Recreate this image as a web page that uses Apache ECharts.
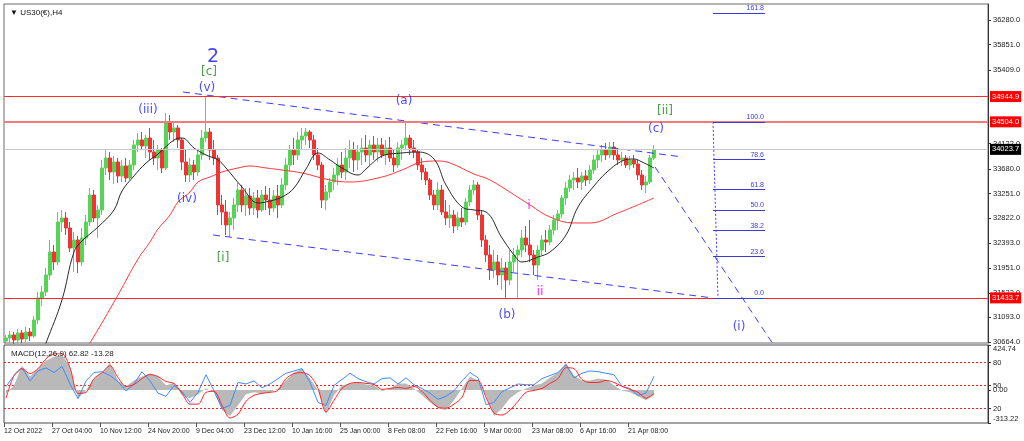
<!DOCTYPE html>
<html><head><meta charset="utf-8">
<script src="https://cdn.jsdelivr.net/npm/echarts/dist/echarts.min.js"></script>
<style>html,body{margin:0;padding:0;background:#fff;}#c{width:1024px;height:441px;}</style>
</head><body><div id="c"></div>
<script>
// ---------- DATA ----------
const barOpen = [30682,30734,30787,30699,30822,30717,30839,30769,31048,31432,
31536,31833,32234,32060,32757,32827,32653,32304,32443,32060,
32478,32757,33228,32827,32967,33699,33873,33629,33804,33560,
33734,33525,33751,34100,34188,34083,34222,33978,33873,34013,
33699,34501,34327,34397,34188,33804,33577,33751,33629,33926,
34222,34327,34013,33873,33054,32932,32705,32827,33054,33315,
33054,33211,33001,33176,32967,33228,33141,33001,33211,33054,
33403,33751,34013,33926,34188,34257,34327,34188,33926,33751,
33141,33281,33455,33577,33751,33629,33873,34013,33839,33978,
34048,33926,34100,33978,34100,33926,34048,33873,33751,34048,
34100,34222,34048,33978,33751,33629,33490,33228,33054,33315,
32932,32827,32879,32687,32827,32757,33106,33315,33403,32879,
32443,32182,31920,32060,31833,31955,31746,32060,32182,32269,
32478,32356,32182,32007,32269,32443,32408,32618,32792,32897,
33176,33350,33490,33525,33455,33560,33490,33664,33839,33926,
34013,33926,34065,33926,33839,33873,33751,33839,33769,33577,
33403,33455,33873];
const barHigh = [30787,30856,30839,30891,30874,30926,30909,31118,31536,31641,
31955,32443,32356,32932,32967,32932,32757,32583,32513,32653,
32879,33350,33315,33054,33839,34013,33978,33908,33873,33839,
33873,33839,34188,34309,34327,34275,34397,34188,34100,34048,
34658,34623,34501,34449,34222,34013,33873,33839,34013,34362,
34945,34397,34188,33926,33228,33141,32932,33176,33437,33403,
33350,33350,33281,33315,33315,33385,33350,33315,33403,33525,
33873,34100,34222,34327,34397,34397,34362,34275,34048,33804,
33403,33525,33699,33873,33978,34048,34188,34153,34100,34222,
34275,34188,34257,34222,34222,34188,34240,34013,34153,34188,
34520,34275,34188,34013,33873,33699,33525,33315,33455,33403,
33141,33054,32967,32932,33001,33176,33403,33490,33455,32967,
32531,32356,32269,32182,32129,32060,32269,32304,32356,32618,
32687,32792,32269,32356,32531,32618,32705,32879,32967,33228,
33455,33577,33629,33699,33629,33664,33751,33926,34013,34100,
34135,34153,34153,34013,33978,33926,33908,33926,33839,33664,
33560,33926,34100];
const barLow = [30629,30647,30629,30647,30647,30664,30682,30734,30978,31292,
31467,31746,31920,32007,32583,32531,32234,31885,31868,31990,
32356,32687,32757,32478,32879,33577,33490,33420,33437,33455,
33455,33490,33664,33978,34013,33873,33839,33751,33664,33612,
33664,34188,34153,34048,33664,33455,33455,33490,33560,33839,
34153,33839,33751,32879,32705,32531,32496,32618,32932,32932,
32862,32879,32879,32827,32932,32967,32879,32932,32827,33001,
33315,33629,33751,33839,34013,34100,34048,33839,33664,33001,
32967,33176,33315,33403,33525,33490,33699,33629,33664,33751,
33804,33751,33839,33804,33873,33751,33804,33629,33699,33839,
34013,33926,33873,33664,33490,33403,33141,32967,32967,32879,
32705,32653,32565,32618,32670,32705,33036,33228,32792,32321,
32060,31746,31781,31659,31571,31436,31659,31885,31436,32147,
32234,32060,31833,31746,32182,32234,32356,32531,32618,32827,
33054,33281,33315,33350,33315,33385,33420,33594,33699,33804,
33839,33873,33839,33751,33734,33699,33664,33699,33490,33315,
33263,33420,33839];
const barClose = [30734,30787,30699,30822,30717,30839,30769,31048,31432,31536,
31833,32234,32060,32757,32827,32653,32304,32443,32060,32478,
32757,33228,32827,32967,33699,33873,33629,33804,33560,33734,
33525,33751,34100,34188,34083,34222,33978,33873,34013,33699,
34501,34327,34397,34188,33804,33577,33751,33629,33926,34222,
34327,34013,33873,33054,32932,32705,32827,33054,33315,33054,
33211,33001,33176,32967,33228,33141,33001,33211,33054,33403,
33751,34013,33926,34188,34257,34327,34188,33926,33751,33141,
33281,33455,33577,33751,33629,33873,34013,33839,33978,34048,
33926,34100,33978,34100,33926,34048,33873,33751,34048,34100,
34222,34048,33978,33751,33629,33490,33228,33054,33315,32932,
32827,32879,32687,32827,32757,33106,33315,33403,32879,32443,
32182,31920,32060,31833,31955,31746,32060,32182,32269,32478,
32356,32182,32007,32269,32443,32408,32618,32792,32897,33176,
33350,33490,33525,33455,33560,33490,33664,33839,33926,34013,
33926,34065,33926,33839,33873,33751,33839,33769,33577,33403,
33455,33873,34024];

// moving averages, sampled [bar, price]
const maFast = [[9,30470],[10,30647],[14,31400],[17,32234],[19,32426],[23,32670],[27,32967],[29,33298],[32,33560],[35,33786],[38,33943],[42,34188],[44,34222],[47,34048],[50,33926],[53,33839],[55,33699],[59,33368],[63,33089],[65,33106],[69,33193],[72,33350],[75,33682],[78,33961],[81,33839],[84,33699],[88,33577],[90,33682],[94,33908],[99,33961],[103,33978],[107,33856],[110,33403],[114,33019],[117,32967],[120,32932],[124,32478],[128,32095],[129,32060],[133,32147],[136,32234],[140,32531],[143,33019],[147,33385],[150,33612],[154,33821],[157,33856],[159,33804],[162,33699]];
const maSlow = [[20,30560],[21,30647],[28,31484],[33,32112],[36,32408],[38,32635],[41,32879],[43,33106],[46,33281],[48,33455],[51,33542],[54,33629],[58,33699],[61,33734],[65,33699],[69,33664],[74,33612],[81,33490],[86,33455],[94,33542],[99,33664],[104,33804],[108,33821],[111,33786],[117,33594],[121,33490],[131,33054],[136,32844],[142,32740],[146,32740],[153,32914],[162,33176]];

// indicator pane, sampled [bar, value]
const macdHist = [[0,-33],[2,42],[4,229],[6,126],[8,201],[10,276],[12,313],[14,332],[16,220],[18,-79],[20,-5],[22,107],[24,163],[26,257],[28,89],[30,33],[32,89],[34,126],[36,154],[38,126],[40,42],[42,70],[44,-51],[46,-79],[48,-42],[50,14],[52,-23],[54,-191],[56,-247],[58,-145],[60,-42],[62,-23],[64,-33],[66,-23],[68,14],[70,89],[72,163],[74,201],[76,107],[78,-5],[80,-229],[82,-51],[84,42],[86,61],[88,70],[90,51],[92,42],[94,-14],[96,14],[98,61],[100,61],[102,14],[104,-51],[106,-117],[108,-173],[110,-191],[112,-98],[114,14],[116,126],[118,89],[120,-51],[122,-247],[124,-173],[126,-79],[128,-23],[130,14],[132,42],[134,61],[136,117],[138,163],[140,257],[142,135],[144,89],[146,89],[148,107],[150,98],[152,42],[154,-5],[156,-23],[158,-61],[160,-98],[162,-51]];
const macdSignal = [[0,-79],[2,135],[4,201],[6,154],[8,201],[10,294],[12,341],[14,341],[16,210],[18,-33],[20,-23],[22,107],[24,163],[26,229],[28,117],[30,33],[32,51],[34,107],[36,145],[38,126],[40,79],[42,61],[44,-33],[46,-135],[48,-135],[50,-23],[52,-14],[54,-145],[56,-266],[58,-229],[60,-107],[62,-51],[64,-33],[66,-23],[68,-5],[70,107],[72,154],[74,163],[76,135],[78,14],[80,-210],[82,-98],[84,14],[86,61],[88,70],[90,61],[92,51],[94,5],[96,14],[98,23],[100,14],[102,33],[104,-14],[106,-98],[108,-163],[110,-173],[112,-135],[114,-70],[116,89],[118,89],[120,-70],[122,-219],[124,-238],[126,-191],[128,-107],[130,-23],[132,-5],[134,14],[136,61],[138,107],[140,210],[142,201],[144,98],[146,70],[148,70],[150,89],[152,70],[154,33],[156,5],[158,-23],[160,-79],[162,-33]];
const oscLine = [[0,48.6],[2,63],[4,73],[6,56],[8,69],[10,73],[12,67],[14,75],[16,52],[18,33],[20,56],[22,67],[24,68],[26,63],[28,55],[30,43],[32,52],[34,68],[36,56],[38,40],[40,36],[42,50],[44,42],[46,28],[48,41],[50,64],[52,43],[54,20],[56,24],[58,54],[60,52],[62,56],[64,47],[66,52],[68,59],[70,66],[72,69],[74,72],[76,54],[78,28],[80,24],[82,50],[84,58],[86,66],[88,59],[90,55],[92,52],[94,59],[96,60],[98,52],[100,60],[102,51],[104,46],[106,40],[108,32],[110,36],[112,43],[114,56],[116,67],[118,60],[120,25],[122,28],[124,42],[126,47],[128,52],[130,51],[132,51],[134,59],[136,63],[138,67],[140,77],[142,60],[144,66],[146,69],[148,68],[150,66],[152,64],[154,49],[156,46],[158,37],[160,40],[162,62]];
const oscLevels = [80, 50, 20];

// axes
const xTickLabels = ['12 Oct 2022','27 Oct 04:00','10 Nov 12:00','24 Nov 20:00','9 Dec 04:00','23 Dec 12:00','10 Jan 16:00','25 Jan 00:00','8 Feb 08:00','22 Feb 16:00','9 Mar 00:00','23 Mar 08:00','6 Apr 16:00','21 Apr 08:00'];
const priceTicks = [30664,31093,31522,31951,32393,32822,33251,33680,34122,35409,35851,36280];
const macdTicks = [-313.22, 0, 424.74];

// drawn objects (bar, price)
const priceLevels = [34944.9, 34504.0, 31433.7];
const lastPrice = 34023.7;
const upperChannel = [[44.25,35024],[169.25,33890]];
const lowerChannel = [[51.75,32531],[176.75,31432]];
const projection = [[162.25,33717],[194.75,30316]];
const fibLow = 31433.7, fibHigh = 34504.0;
const fibRatios = [0, 23.6, 38.2, 50.0, 61.8, 78.6, 100.0, 161.8];
const fibBars = [176.75, 189.75];
const fibSpine = [[176.75,34504],[178,31434]];
const waveLabels = [
  {text:'2', bar:51.75, price:35635, degree:'primary'},
  {text:'[c]', bar:50.75, price:35373, degree:'minute'},
  {text:'(v)', bar:50.25, price:35094, degree:'minor'},
  {text:'(iii)', bar:35.5, price:34711, degree:'minor'},
  {text:'(iv)', bar:45.25, price:33158, degree:'minor'},
  {text:'[i]', bar:54.25, price:32129, degree:'minute'},
  {text:'(a)', bar:99.5, price:34868, degree:'minor'},
  {text:'(b)', bar:125.25, price:31135, degree:'minor'},
  {text:'i', bar:130.75, price:33036, degree:'sub'},
  {text:'ii', bar:133.5, price:31536, degree:'sub'},
  {text:'[ii]', bar:164.75, price:34693, degree:'minute'},
  {text:'(c)', bar:162.5, price:34379, degree:'minor'},
  {text:'(i)', bar:183.25, price:30926, degree:'minor'}
];

// ---------- LAYOUT / STYLE ----------
const SLOTS = 246, SLOTS_PER_LABEL = 12;
const degreeStyle = {
  primary:{color:'#1414f0', fontSize:19},
  minor:{color:'#1a1af0', fontSize:12},
  minute:{color:'#1a861a', fontSize:12},
  sub:{color:'#ff00ff', fontSize:13}
};
const FONT = 'Liberation Sans';
const cats = Array.from({length: SLOTS}, (_, i) => i);
const candles = barOpen.map((o, i) => [o, barClose[i], barLow[i], barHigh[i]]);
const xTickPos = xTickLabels.map((_, k) => -0.5 + SLOTS_PER_LABEL * k);

const levelLines = priceLevels.map((p, k) => ({
  yAxis: p,
  lineStyle: k === 1 ? {color:'#f37b7b', width:2, type:'solid'} : {color:'#ff2a2a', width:1, type:'solid'},
  label: {show:true, position:'end', distance:2, formatter: p.toFixed(1), backgroundColor:'#ff0000', color:'#ffffff', padding:[2,2,1,2], fontSize:7.5, fontFamily:FONT}
}));
levelLines.push({
  yAxis: lastPrice,
  lineStyle:{color:'#c8c8c8', width:1, type:'solid'},
  label:{show:true, position:'end', distance:2, formatter: lastPrice.toFixed(1), backgroundColor:'#000000', color:'#ffffff', padding:[2,2,1,2], fontSize:7.5, fontFamily:FONT}
});

const fibLines = fibRatios.map(r => {
  const p = fibLow + (fibHigh - fibLow) * r / 100;
  return [
    {coord:[fibBars[0], p], lineStyle:{color:'#3a3ad8', width:1, type:'solid'},
     label:{show:true, position:'insideEndTop', distance:1, formatter: r.toFixed(1), color:'#3a3ad8', fontSize:7, fontFamily:FONT}},
    {coord:[fibBars[1], p]}
  ];
});
// oscillator level lines as plain line series across the pane
const oscLevelSeries = oscLevels.map(v => ({
  type:'line', xAxisIndex:2, yAxisIndex:2, data:[[-0.5, v], [SLOTS - 0.5, v]], showSymbol:false, silent:true,
  lineStyle:{color:'#ff1e1e', width:1, type:[2,2]}, z:1
}));

const dashed = {color:'#3c3cff', width:1, type:[7,5]};
const chart = echarts.init(document.getElementById('c'), null, {renderer:'canvas'});
chart.setOption({
  animation:false,
  backgroundColor:'#ffffff',
  textStyle:{fontFamily:FONT},
  title:[
    {text:'▼ US30(€),H4', left:5, top:4, textStyle:{fontSize:8, fontWeight:'normal', color:'#111', fontFamily:FONT}},
    {text:'MACD(12,26,9) 62.82 -13.28', left:6, top:345, textStyle:{fontSize:8, fontWeight:'normal', color:'#222', fontFamily:FONT}}
  ],
  grid:[
    {left:4, right:36, top:4, height:339, show:true, borderColor:'#6a6a6a', borderWidth:1, backgroundColor:'#ffffff'},
    {left:4, right:36, top:345, height:78, show:true, borderColor:'#4a4a4a', borderWidth:1, backgroundColor:'#ffffff'}
  ],
  xAxis:[
    {type:'category', gridIndex:0, data:cats, boundaryGap:true, show:false},
    {type:'value', gridIndex:0, min:-0.5, max:SLOTS-0.5, show:false},
    {type:'value', gridIndex:1, min:-0.5, max:SLOTS-0.5, position:'bottom',
      axisLine:{show:false, onZero:false},
      axisTick:{show:true, length:4, customValues:xTickPos, lineStyle:{color:'#555'}},
      axisLabel:{customValues:xTickPos, formatter:v => xTickLabels[Math.round((v + 0.5) / SLOTS_PER_LABEL)], align:'left', margin:5, fontSize:7, color:'#222', fontFamily:FONT},
      splitLine:{show:false}}
  ],
  yAxis:[
    {type:'value', gridIndex:0, position:'right', min:30647, max:36559, splitLine:{show:false},
      axisLine:{show:true, onZero:false, lineStyle:{color:'#333'}},
      axisTick:{show:true, length:3, customValues:priceTicks, lineStyle:{color:'#333'}},
      axisLabel:{customValues:priceTicks, formatter:v => v.toFixed(1), fontSize:7.5, color:'#222', margin:5, fontFamily:FONT}},
    {type:'value', gridIndex:1, position:'right', min:-313.22, max:424.74, splitLine:{show:false},
      axisLine:{show:true, onZero:false, lineStyle:{color:'#333'}},
      axisTick:{show:true, length:3, customValues:macdTicks, lineStyle:{color:'#333'}},
      axisLabel:{customValues:macdTicks, formatter:v => v.toFixed(2), fontSize:7.5, color:'#222', margin:5, fontFamily:FONT, verticalAlignMaxLabel:'top', verticalAlignMinLabel:'bottom'}},
    {type:'value', gridIndex:1, position:'right', min:1.09, max:102.83, splitLine:{show:false},
      axisLine:{show:false, onZero:false},
      axisTick:{show:true, length:3, customValues:oscLevels, lineStyle:{color:'#333'}},
      axisLabel:{customValues:oscLevels, formatter:v => String(v), fontSize:7.5, color:'#222', margin:5, fontFamily:FONT}}
  ],
  series:[
    {type:'candlestick', xAxisIndex:0, yAxisIndex:0, data:candles, barWidth:3,
      itemStyle:{color:'#55d455', color0:'#f03434', borderColor:'#55d455', borderColor0:'#f03434', borderWidth:1}},
    {type:'line', xAxisIndex:1, yAxisIndex:0, data:maSlow, smooth:0.4, showSymbol:false, lineStyle:{color:'#ff3a3a', width:1}, z:3,
      markLine:{silent:true, symbol:['none','none'], data:levelLines}},
    {type:'line', xAxisIndex:1, yAxisIndex:0, data:maFast, smooth:0.4, showSymbol:false, lineStyle:{color:'#2a2a2a', width:1}, z:3},
    {type:'line', xAxisIndex:1, yAxisIndex:0, data:upperChannel, showSymbol:false, lineStyle:dashed, z:4},
    {type:'line', xAxisIndex:1, yAxisIndex:0, data:lowerChannel, showSymbol:false, lineStyle:dashed, z:4},
    {type:'line', xAxisIndex:1, yAxisIndex:0, data:projection, showSymbol:false, lineStyle:dashed, z:4, clip:true},
    {type:'line', xAxisIndex:1, yAxisIndex:0, data:fibSpine, showSymbol:false, lineStyle:{color:'#3c3cff', width:1, type:[2,2]}, z:4,
      markLine:{silent:true, symbol:['none','none'], data:fibLines}},
    {type:'scatter', xAxisIndex:1, yAxisIndex:0, symbolSize:0, z:6,
      data:waveLabels.map(w => ({value:[w.bar, w.price], name:w.text,
        label:{show:true, position:'inside', formatter:w.text, color:degreeStyle[w.degree].color, fontSize:degreeStyle[w.degree].fontSize, fontFamily:'DejaVu Sans'}}))},
    {type:'line', xAxisIndex:2, yAxisIndex:1, data:macdHist, showSymbol:false, lineStyle:{width:0, opacity:0}, areaStyle:{color:'#b9b9b9', origin:0, opacity:1}, z:2},
    ...oscLevelSeries,
    {type:'line', xAxisIndex:2, yAxisIndex:2, data:oscLine, showSymbol:false, lineStyle:{color:'#3d8cff', width:1}, z:3},
    {type:'line', xAxisIndex:2, yAxisIndex:1, data:macdSignal, smooth:0.3, showSymbol:false, lineStyle:{color:'#ff2a2a', width:1}, z:4}
  ]
});
</script>
</body></html>
